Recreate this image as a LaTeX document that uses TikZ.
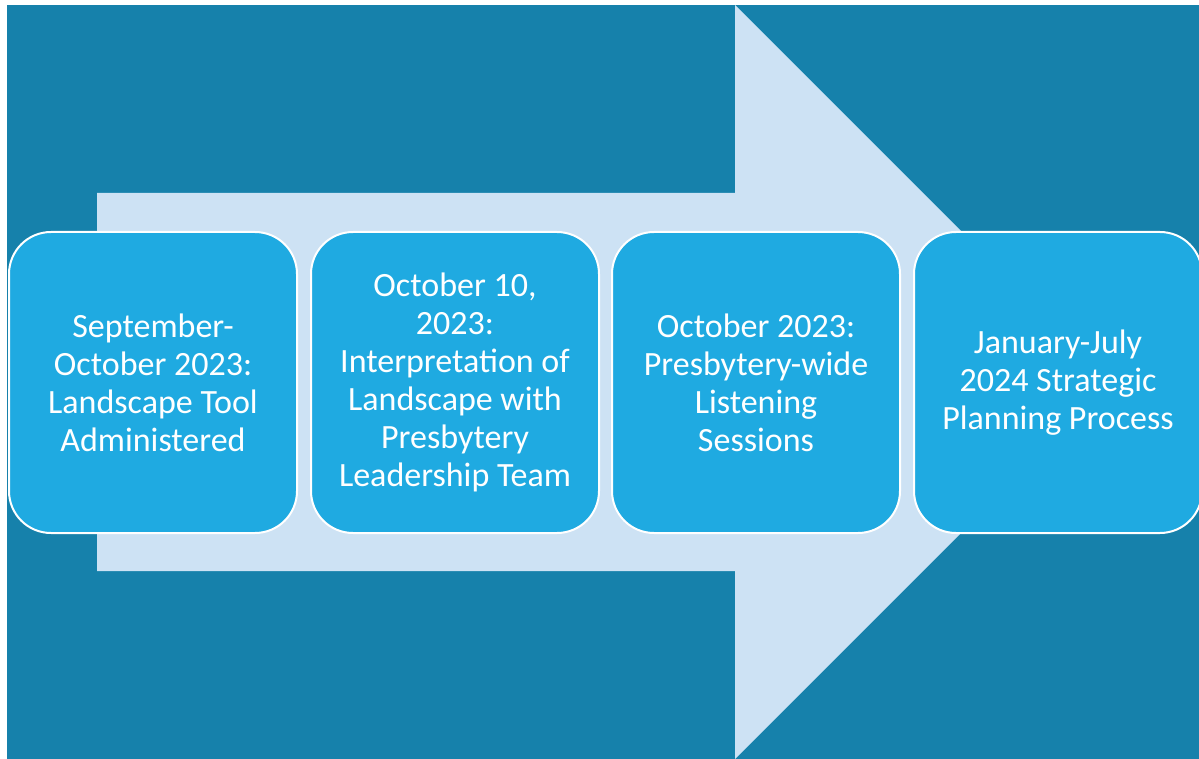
\documentclass[tikz,border=0pt]{standalone}
\usepackage{fontspec}
\setmainfont{Carlito}
\definecolor{bgteal}{RGB}{22,129,171}
\definecolor{arrowlight}{RGB}{205,226,244}
\definecolor{stepblue}{RGB}{31,170,225}
\tikzset{
  stepbox/.style={draw=white, line width=2pt, fill=stepblue, rounded corners=42pt,
    minimum width=288pt, minimum height=301pt, inner sep=0pt, anchor=north west,
    text=white, align=center,
    font=\fontsize{34}{38}\selectfont},
}
\begin{document}
\begin{tikzpicture}[x=1pt,y=-1pt]
  \useasboundingbox (0,0) rectangle (1199,759);
  % backdrop
  \fill[bgteal] (7,5) rectangle (1199,759);
  % large process arrow behind the steps
  \fill[arrowlight] (97,193) -- (735,193) -- (735,5) -- (1112,382)
    -- (735,759) -- (735,571) -- (97,571) -- cycle;
  % steps
  \node[stepbox] (s1) at (8,231) {September-\\October 2023:\\Landscape Tool\\Administered};
  \node[stepbox] (s2) at (310,231) {October 10,\\2023:\\Interpretation of\\Landscape with\\Presbytery\\Leadership Team};
  \node[stepbox] (s3) at (611,231) {October 2023:\\Presbytery-wide\\Listening\\Sessions};
  \node[stepbox] (s4) at (913,231) {January-July\\2024 Strategic\\Planning Process};
\end{tikzpicture}
\end{document}
